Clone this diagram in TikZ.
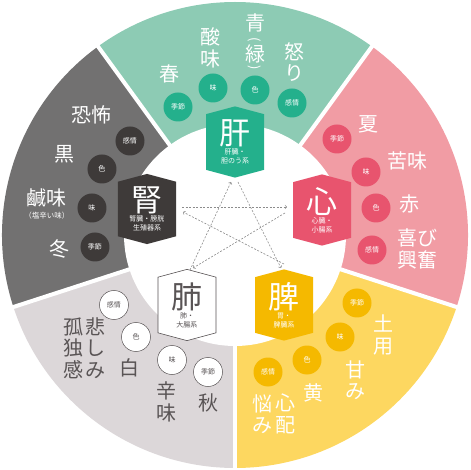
\documentclass[tikz,border=0pt]{standalone}
\usepackage{fontspec}
\setmainfont{Noto Sans CJK JP}
\usepackage{tikz}
\usetikzlibrary{shapes.symbols}

\definecolor{woodlight}{RGB}{141,203,180}
\definecolor{wooddark}{RGB}{36,176,140}
\definecolor{firelight}{RGB}{241,156,164}
\definecolor{firedark}{RGB}{232,84,110}
\definecolor{earthlight}{RGB}{253,215,96}
\definecolor{earthdark}{RGB}{245,185,0}
\definecolor{metallight}{RGB}{220,215,217}
\definecolor{metaltext}{RGB}{89,84,85}
\definecolor{waterlight}{RGB}{114,113,113}
\definecolor{waterdark}{RGB}{62,58,57}
\definecolor{stargray}{RGB}{140,140,140}

\begin{document}
\begin{tikzpicture}[x=1pt, y=1pt,
			organ/.style={shape=signal, signal to=north and south, signal pointer angle=150, minimum width=58pt, minimum height=64pt, inner sep=0pt, align=center, text=white, font=\fontsize{7}{9}\selectfont},
			tag/.style={circle, minimum size=29pt, inner sep=0pt, text=white, font=\fontsize{7}{8}\selectfont},
			word/.style={inner sep=0pt, align=center, text=white, font=\fontsize{20}{21.5}\selectfont},
			paren/.style={inner sep=0pt, text=white, rotate=-90, font=\fontsize{13}{13}\selectfont},
			star/.style={->, dash pattern=on 2pt off 1.5pt, line width=0.6pt, color=stargray}
		]

		\useasboundingbox (-235,-235) rectangle (235,235);

		\fill[woodlight] (0,0) -- (54:233) arc[start angle=54, end angle=126, radius=233] -- cycle;
		\fill[waterlight] (0,0) -- (126:233) arc[start angle=126, end angle=198, radius=233] -- cycle;
		\fill[metallight] (0,0) -- (198:233) arc[start angle=198, end angle=270, radius=233] -- cycle;
		\fill[earthlight] (0,0) -- (270:233) arc[start angle=270, end angle=342, radius=233] -- cycle;
		\fill[firelight] (0,0) -- (342:233) arc[start angle=342, end angle=414, radius=233] -- cycle;
		\draw[white, line width=4pt] (0,0) -- (54:236);
		\draw[white, line width=4pt] (0,0) -- (126:236);
		\draw[white, line width=4pt] (0,0) -- (198:236);
		\draw[white, line width=4pt] (0,0) -- (270:236);
		\draw[white, line width=4pt] (0,0) -- (342:236);
		\fill[white] (0,0) circle[radius=111];

		\node[tag, fill=wooddark] (woodseason) at (-57,128) {季節};
		\node[tag, fill=wooddark] (woodtaste) at (-22,147) {味};
		\node[tag, fill=wooddark] (woodcolor) at (20,145) {色};
		\node[tag, fill=wooddark] (woodemotion) at (57,132) {感情};
		\node[word] (spring) at (-66,161) {春};
		\node[word] (sour) at (-25,187) {酸\\味};
		\node[word] (blue) at (20,212) {青};
		\node[paren] (parenopen) at (20,195) {(};
		\node[word] (green) at (20,181) {緑};
		\node[paren] (parenclose) at (20,167) {)};
		\node[word] (anger) at (59,173) {怒\\り};

		\node[tag, fill=firedark] (fireseason) at (102,96) {季節};
		\node[tag, fill=firedark] (firetaste) at (131,63) {味};
		\node[tag, fill=firedark] (firecolor) at (141,27) {色};
		\node[tag, fill=firedark] (fireemotion) at (137,-15) {感情};
		\node[word] (summer) at (133,111) {夏};
		\node[word] (bitter) at (172,74) {苦味};
		\node[word] (red) at (174,31) {赤};
		\node[word] (joy) at (182,-14) {喜び\\興奮};

		\node[tag, fill=earthdark] (earthseason) at (122,-68) {季節};
		\node[tag, fill=earthdark] (earthtaste) at (105,-102) {味};
		\node[tag, fill=earthdark] (earthcolor) at (72,-125) {色};
		\node[tag, fill=earthdark] (earthemotion) at (33,-137) {感情};
		\node[word] (doyo) at (148,-100) {土\\用};
		\node[word] (sweet) at (120,-145) {甘\\み};
		\node[word] (yellow) at (78,-158) {黄};
		\node[word] (worry) at (50,-179) {心\\配};
		\node[word] (trouble) at (27,-179) {悩\\み};

		\node[tag, fill=white, draw=metaltext, line width=0.5pt, text=metaltext] (metalemotion) at (-121,-70) {感情};
		\node[tag, fill=white, draw=metaltext, line width=0.5pt, text=metaltext] (metalcolor) at (-99,-102) {色};
		\node[tag, fill=white, draw=metaltext, line width=0.5pt, text=metaltext] (metaltaste) at (-63,-125) {味};
		\node[tag, fill=white, draw=metaltext, line width=0.5pt, text=metaltext] (metalseason) at (-27,-137) {季節};
		\node[word, text=metaltext] (lonely) at (-161,-113) {孤\\独\\感};
		\node[word, text=metaltext] (sad) at (-139,-113) {悲\\し\\み};
		\node[word, text=metaltext] (white) at (-105,-133) {白};
		\node[word, text=metaltext] (spicy) at (-68,-167) {辛\\味};
		\node[word, text=metaltext] (autumn) at (-27,-168) {秋};

		\node[tag, fill=waterdark] (wateremotion) at (-105,94) {感情};
		\node[tag, fill=waterdark] (watercolor) at (-133,66) {色};
		\node[tag, fill=waterdark] (watertaste) at (-143,27) {味};
		\node[tag, fill=waterdark] (waterseason) at (-140,-12) {季節};
		\node[word] (fear) at (-143,120) {恐怖};
		\node[word] (black) at (-170,81) {黒};
		\node[word] (salty) at (-188,37) {鹹味};
		\node[word, font=\fontsize{7.5}{8}\selectfont] (saltynote) at (-188,19) {（塩辛い味）};
		\node[word] (winter) at (-175,-14) {冬};

		\node[organ, fill=wooddark] (liver) at (0,93) {{\fontsize{31}{31}\selectfont 肝}\\[1pt]肝臓・\\胆のう系};
		\node[organ, fill=firedark] (heart) at (87,25) {{\fontsize{31}{31}\selectfont 心}\\[1pt]心臓・\\小腸系};
		\node[organ, fill=earthdark] (spleen) at (49,-70) {{\fontsize{31}{31}\selectfont 脾}\\[1pt]胃・\\脾臓系};
		\node[organ, fill=white, draw=metaltext, line width=0.6pt, text=metaltext] (lung) at (-48,-70) {{\fontsize{31}{31}\selectfont 肺}\\[1pt]肺・\\大腸系};
		\node[organ, fill=waterdark] (kidney) at (-88,26) {{\fontsize{31}{31}\selectfont 腎}\\[1pt]腎臓・膀胱\\生殖器系};

		\coordinate (liverin) at (-4,53);
		\coordinate (liverout) at (3,53);
		\coordinate (heartin) at (52,28);
		\coordinate (heartout) at (50,22);
		\coordinate (spleenin) at (46,-33);
		\coordinate (spleenout) at (49,-29);
		\coordinate (lungin) at (-42,-33);
		\coordinate (lungout) at (-45,-35);
		\coordinate (kidneyin) at (-52,23);
		\coordinate (kidneyout) at (-53,28);

		\draw[star] (kidneyout) -- (heartin);
		\draw[star] (heartout) -- (lungin);
		\draw[star] (lungout) -- (liverin);
		\draw[star] (liverout) -- (spleenin);
		\draw[star] (spleenout) -- (kidneyin);

	\end{tikzpicture}
\end{document}
